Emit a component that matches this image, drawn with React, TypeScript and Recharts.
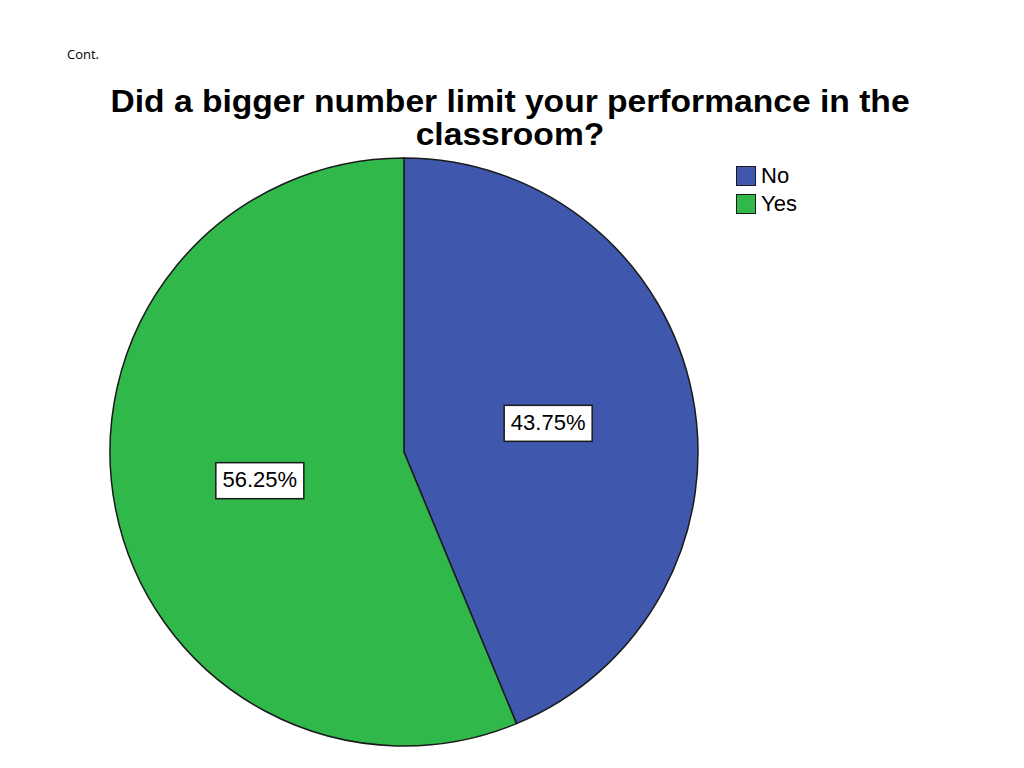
import { PieChart, Pie, Cell, Legend } from "recharts";

const categories = ["No", "Yes"];
const percentValues = [43.75, 56.25];
const sliceColors = ["#3f58ad", "#30b94a"];
const titleLines = ["Did a bigger number limit your performance in the", "classroom?"];

const data = categories.map((name, i) => ({ name, value: percentValues[i] }));

const RADIAN = Math.PI / 180;

function renderLabel(props: any) {
  const { cx, cy, midAngle, outerRadius, value } = props;
  const r = outerRadius * 0.5;
  const x = cx + r * Math.cos(-midAngle * RADIAN);
  const y = cy + r * Math.sin(-midAngle * RADIAN);
  const w = 88;
  const h = 36;
  return (
    <g>
      <rect x={x - w / 2} y={y - h / 2} width={w} height={h} fill="#ffffff" stroke="#1a1a1a" strokeWidth={1.5} />
      <text
        x={x}
        y={y + 1}
        textAnchor="middle"
        dominantBaseline="middle"
        fontFamily="Liberation Sans, Arial, sans-serif"
        fontSize={22}
        fill="#000"
      >
        {`${value.toFixed(2)}%`}
      </text>
    </g>
  );
}

function LegendBox() {
  return (
    <div style={{ fontFamily: "Liberation Sans, Arial, sans-serif", fontSize: 22 }}>
      {data.map((d, i) => (
        <div key={d.name} style={{ display: "flex", alignItems: "center", height: 28 }}>
          <div
            style={{
              width: 18,
              height: 18,
              background: sliceColors[i],
              border: "1.5px solid #1a1a1a",
              marginRight: 5,
            }}
          />
          <span style={{ color: "#000" }}>{d.name}</span>
        </div>
      ))}
    </div>
  );
}

export default function App() {
  return (
    <div style={{ position: "absolute", left: 0, top: 0, width: 1024, height: 768, background: "#fff" }}>
      <div
        style={{
          position: "absolute",
          left: 67,
          top: 45,
          fontFamily: "Open Sans, Liberation Sans, sans-serif",
          fontSize: 13,
          color: "#000",
        }}
      >
        Cont.
      </div>
      <div
        style={{
          position: "absolute",
          left: 0,
          top: 85,
          width: 1020,
          textAlign: "center",
          fontFamily: "Liberation Sans, Arial, sans-serif",
          fontWeight: "bold",
          fontSize: 31,
          lineHeight: "33px",
          color: "#000",
          transform: "scaleX(1.084)",
          transformOrigin: "510px 0",
        }}
      >
        {titleLines.map((t) => (
          <div key={t}>{t}</div>
        ))}
      </div>
      <div style={{ position: "absolute", left: 0, top: 0 }}>
        <PieChart width={1024} height={768}>
          <Pie
            data={data}
            dataKey="value"
            nameKey="name"
            cx={399}
            cy={447}
            outerRadius={294}
            startAngle={90}
            endAngle={-270}
            stroke="#1a1a1a"
            strokeWidth={1.5}
            label={renderLabel}
            labelLine={false}
            isAnimationActive={false}
          >
            {data.map((d, i) => (
              <Cell key={d.name} fill={sliceColors[i]} />
            ))}
          </Pie>
          <Legend
            layout="vertical"
            content={() => <LegendBox />}
            wrapperStyle={{ position: "absolute", left: 736, top: 162, width: 120 }}
          />
        </PieChart>
      </div>
    </div>
  );
}
